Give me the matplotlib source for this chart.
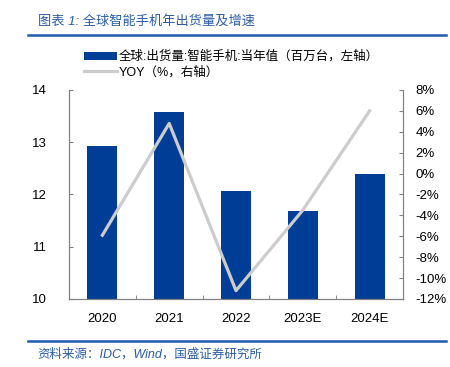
import matplotlib
matplotlib.use('Agg')
import matplotlib.pyplot as plt
import matplotlib.ticker as ticker
import numpy as np

plt.rcParams['font.family'] = ['Liberation Sans', 'Noto Sans CJK SC']
plt.rcParams['axes.unicode_minus'] = False

# datos
anios = ['2020', '2021', '2022', '2023E', '2024E']
envios = [12.93, 13.58, 12.07, 11.68, 12.39]   # cientos de millones
yoy = [-5.9, 4.8, -11.2, -3.5, 6.0]             # %

azul = '#003D96'
gris = '#CCCCCC'
eje = '#808080'

fig = plt.figure(figsize=(4.5, 3.67), dpi=100)
ax = fig.add_axes([0.1533, 0.1853, 0.7423, 0.5695])
x = np.arange(len(anios))
b = ax.bar(x, envios, width=0.45, color=azul, zorder=2,
           label='全球:出货量:智能手机:当年值（百万台，左轴）')
ax.set_ylim(10, 14)
ax.set_xlim(-0.5, len(anios) - 0.5)
ax.set_yticks([10, 11, 12, 13, 14])
ax.set_xticks(x)
ax.set_xticklabels(anios)
ax.set_xticks(np.arange(-0.5, len(anios), 1), minor=True)
ax.tick_params(axis='x', which='major', length=0, pad=10, labelsize=9.5)
ax.tick_params(axis='x', which='minor', direction='in', length=3, color=eje)
ax.tick_params(axis='y', direction='in', length=3, color=eje, labelsize=9.5, pad=16)

ax2 = ax.twinx()
l, = ax2.plot(x, yoy, color=gris, linewidth=2.3, zorder=3,
              label='YOY（%，右轴）')
ax2.set_ylim(-12, 8)
ax2.set_yticks(np.arange(-12, 9, 2))
ax2.yaxis.set_major_formatter(ticker.FuncFormatter(lambda v, p: '%d%%' % v))
ax2.tick_params(axis='y', direction='in', length=3, color=eje, labelsize=9.5, pad=9)

for a in (ax, ax2):
    a.spines['top'].set_visible(False)
    for s in ('left', 'right', 'bottom'):
        a.spines[s].set_color(eje)
        a.spines[s].set_linewidth(0.8)

# linea sobre las barras
ax.set_zorder(1)
ax2.set_zorder(2)
ax2.patch.set_visible(False)

fig.legend(handles=[b, l], loc='upper left', bbox_to_anchor=(0.187, 0.862),
           frameon=False, fontsize=9, handlelength=2.6, handleheight=0.6,
           handletextpad=0.2, labelspacing=0.25, borderpad=0, borderaxespad=0)

# titulo y fuente
fig.text(0.084, 0.943, '图表 1: 全球智能手机年出货量及增速', color='#2A5CA8',
         fontsize=9.5, style='italic', ha='left', va='center')
fig.add_artist(plt.Line2D([0.062, 0.99], [0.905, 0.905], color='#1F5AAA', linewidth=1.8))
fig.add_artist(plt.Line2D([0.062, 0.99], [0.071, 0.071], color='#1F5AAA', linewidth=1.8))
fig.text(0.084, 0.033, '资料来源：IDC，Wind，国盛证券研究所', color='#2A5CA8',
         fontsize=9, style='italic', ha='left', va='center')

fig.savefig('out.png', dpi=100)
